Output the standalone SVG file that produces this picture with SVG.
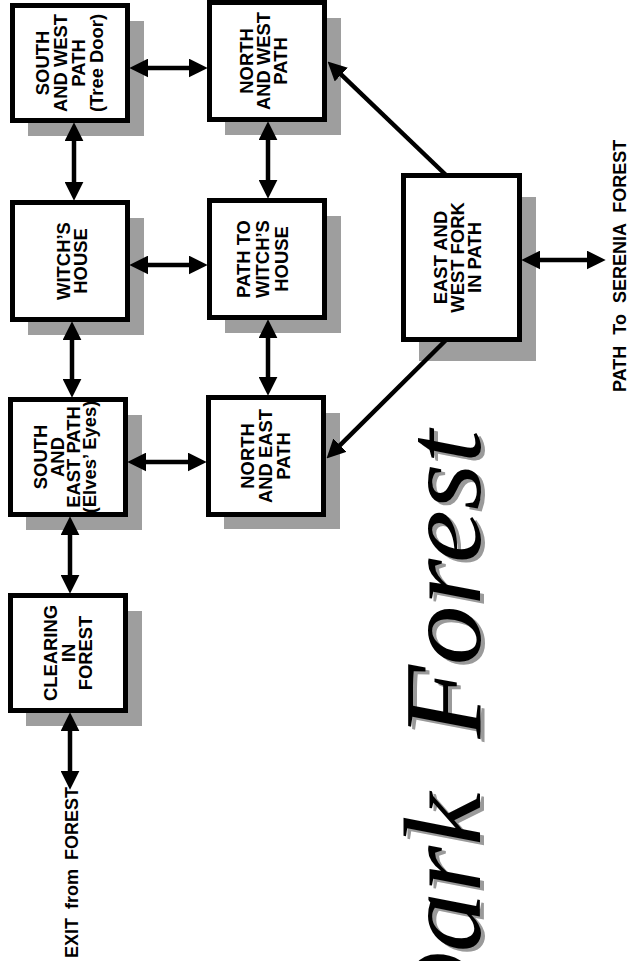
<svg xmlns="http://www.w3.org/2000/svg" width="628" height="961" viewBox="0 0 628 961">
<style>
.box{fill:#fff;stroke:#000;stroke-width:5}
.sh{fill:#9e9e9e}
.lbl{font-family:"Liberation Sans",Arial,sans-serif;font-weight:bold;font-size:19px;fill:#000;text-anchor:middle}
.ext{font-family:"Liberation Sans",Arial,sans-serif;font-weight:bold;font-size:18px;fill:#000;word-spacing:4px}
.con{stroke:#000;stroke-width:4.5;fill:none}
.dbl{marker-start:url(#ah);marker-end:url(#ah)}
.one{marker-end:url(#ah)}
.title{font-family:"Liberation Serif","Times New Roman",serif;font-style:italic;font-size:110px;word-spacing:22px}
</style>
<defs>
<marker id="ah" markerUnits="userSpaceOnUse" markerWidth="19" markerHeight="19" viewBox="0 0 17 17" refX="11" refY="8.5" orient="auto-start-reverse">
<path d="M0,0 L17,8.5 L0,17 Z" fill="#000"/>
</marker>
</defs>

<g id="title">
<text class="title" fill="#9a9a9a" text-anchor="end" transform="translate(484,433) rotate(-90) scale(1.09,1)">Dark Forest</text>
<text class="title" fill="#000" text-anchor="end" transform="translate(480,430) rotate(-90) scale(1.09,1)">Dark Forest</text>
</g>

<g id="shadows">
<rect class="sh" x="28" y="21" width="116" height="115"/>
<rect class="sh" x="28" y="218" width="116" height="117"/>
<rect class="sh" x="26" y="415" width="116" height="115"/>
<rect class="sh" x="26" y="611" width="116" height="115"/>
<rect class="sh" x="225" y="18" width="116" height="117"/>
<rect class="sh" x="225" y="216" width="116" height="117"/>
<rect class="sh" x="224" y="413" width="116" height="116"/>
<rect class="sh" x="419" y="197" width="117" height="164"/>
</g>

<g id="connectors">
<line class="con dbl" x1="136" y1="68" x2="201" y2="68"/>
<line class="con dbl" x1="74" y1="129" x2="74" y2="194"/>
<line class="con dbl" x1="136" y1="265" x2="201" y2="265"/>
<line class="con dbl" x1="72" y1="328" x2="72" y2="391"/>
<line class="con dbl" x1="134" y1="462" x2="200" y2="462"/>
<line class="con dbl" x1="70" y1="523" x2="70" y2="587"/>
<line class="con dbl" x1="70" y1="719" x2="70" y2="783"/>
<line class="con dbl" x1="268" y1="128" x2="268" y2="192"/>
<line class="con dbl" x1="268" y1="326" x2="268" y2="389"/>
<line class="con dbl" x1="528" y1="260" x2="599" y2="260"/>
<line class="con one" x1="447" y1="176" x2="332.4" y2="66.1"/>
<line class="con one" x1="447" y1="339" x2="331.3" y2="453.8"/>
</g>

<g id="n-south-west">
<rect class="box" x="12.5" y="5.5" width="115" height="115"/>
<g transform="translate(69,63) rotate(-90) scale(0.97,1)">
<text class="lbl" x="0" y="-20">SOUTH</text>
<text class="lbl" x="0" y="-2">AND WEST</text>
<text class="lbl" x="0" y="16">PATH</text>
<text class="lbl" x="0" y="34">(Tree  Door)</text>
</g>
</g>

<g id="n-witch-house">
<rect class="box" x="12.5" y="202.5" width="115" height="117"/>
<g transform="translate(71,261) rotate(-90) scale(0.97,1)">
<text class="lbl" x="0" y="-1.5">WITCH’S</text>
<text class="lbl" x="0" y="16">HOUSE</text>
</g>
</g>

<g id="n-south-east">
<rect class="box" x="10.5" y="399.5" width="115" height="115"/>
<g transform="translate(65,457) rotate(-90) scale(0.97,1)">
<text class="lbl" x="0" y="-18">SOUTH</text>
<text class="lbl" x="0" y="-1.5">AND</text>
<text class="lbl" x="0" y="15">EAST  PATH</text>
<text class="lbl" x="0" y="31.5">(Elves’  Eyes)</text>
</g>
</g>

<g id="n-clearing">
<rect class="box" x="10.5" y="595.5" width="115" height="115"/>
<g transform="translate(67.5,653) rotate(-90) scale(0.97,1)">
<text class="lbl" x="0" y="-11">CLEARING</text>
<text class="lbl" x="0" y="7">IN</text>
<text class="lbl" x="0" y="25">FOREST</text>
</g>
</g>

<g id="n-north-west">
<rect class="box" x="209.5" y="2.5" width="115" height="117"/>
<g transform="translate(263,61) rotate(-90) scale(0.97,1)">
<text class="lbl" x="0" y="-10.5">NORTH</text>
<text class="lbl" x="0" y="7">AND WEST</text>
<text class="lbl" x="0" y="24.5">PATH</text>
</g>
</g>

<g id="n-path-witch">
<rect class="box" x="209.5" y="200.5" width="115" height="117"/>
<g transform="translate(262,259) rotate(-90) scale(0.97,1)">
<text class="lbl" x="0" y="-12">PATH  TO</text>
<text class="lbl" x="0" y="7">WITCH’S</text>
<text class="lbl" x="0" y="26">HOUSE</text>
</g>
</g>

<g id="n-north-east">
<rect class="box" x="208.5" y="397.5" width="115" height="117"/>
<g transform="translate(265,456) rotate(-90) scale(0.97,1)">
<text class="lbl" x="0" y="-11">NORTH</text>
<text class="lbl" x="0" y="7">AND EAST</text>
<text class="lbl" x="0" y="25">PATH</text>
</g>
</g>

<g id="n-fork">
<rect class="box" x="403.5" y="175.5" width="116" height="164"/>
<g transform="translate(457,257.5) rotate(-90) scale(0.97,1)">
<text class="lbl" x="0" y="-10.5">EAST  AND</text>
<text class="lbl" x="0" y="7">WEST  FORK</text>
<text class="lbl" x="0" y="24.5">IN  PATH</text>
</g>
</g>

<g id="exit-label">
<text class="ext" transform="translate(78,958) rotate(-90)">EXIT  from  FOREST</text>
</g>
<g id="serenia-label">
<text class="ext" style="word-spacing:6px" transform="translate(625.5,392) rotate(-90)">PATH  To  SERENIA  FOREST</text>
</g>
</svg>
